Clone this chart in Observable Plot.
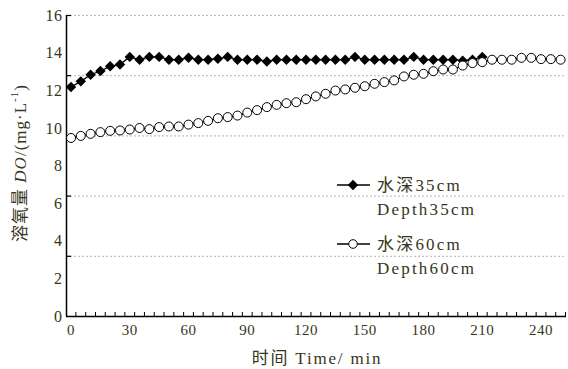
<!DOCTYPE html>
<html><head><meta charset="utf-8">
<script src="https://cdn.jsdelivr.net/npm/d3@7"></script>
<script src="https://cdn.jsdelivr.net/npm/@observablehq/plot@0.6"></script>
<style>
body{margin:0;background:#fff}
#chart{position:relative;width:568px;height:369px}
</style>
</head><body><div id="chart"></div>
<script>
// ---- data ----
const times35 = [0,5,10,15,20,25,30,35,40,45,50,55,60,65,70,75,80,85,90,95,100,105,110,115,120,125,130,135,140,145,150,155,160,165,170,175,180,185,190,195,200,205,210];
const depth35 = [12.2,12.5,12.85,13.05,13.3,13.4,13.8,13.65,13.8,13.8,13.65,13.65,13.75,13.65,13.65,13.7,13.8,13.65,13.65,13.65,13.55,13.65,13.65,13.65,13.65,13.65,13.65,13.65,13.65,13.8,13.65,13.65,13.65,13.65,13.65,13.8,13.65,13.65,13.65,13.65,13.6,13.65,13.8];
const times60 = [0,5,10,15,20,25,30,35,40,45,50,55,60,65,70,75,80,85,90,95,100,105,110,115,120,125,130,135,140,145,150,155,160,165,170,175,180,185,190,195,200,205,210,215,220,225,230,235,240,245,250];
const depth60 = [9.49,9.6,9.71,9.8,9.87,9.89,9.94,10.02,9.96,10.07,10.1,10.1,10.2,10.28,10.4,10.54,10.6,10.68,10.84,10.97,11.13,11.25,11.34,11.39,11.55,11.7,11.84,12.01,12.07,12.16,12.24,12.37,12.46,12.55,12.76,12.85,12.9,13.04,13.13,13.13,13.34,13.47,13.52,13.65,13.65,13.65,13.75,13.75,13.68,13.68,13.65];
const xTickLabels = [0,30,60,90,120,150,180,210,240];
const xMinorTicks = [2.5,7.5,12.5,17.5,22.5,27.5,32.5,37.5,42.5,47.5,52.5,57.5,62.5,67.5,72.5,77.5,82.5,87.5,92.5,97.5,102.5,107.5,112.5,117.5,122.5,127.5,132.5,137.5,142.5,147.5,152.5,157.5,162.5,167.5,172.5,177.5,182.5,187.5,192.5,197.5,202.5,207.5,212.5,217.5,222.5,227.5,232.5,237.5,242.5,247.5,252.5];
const yTickLabels = [0,2,4,6,8,10,12,14,16];
const yGridTicks = [3.2,6.4,9.6,12.8,16];
const xDomain = [-2.3, 253];
const yDomain = [0, 16];
const seriesNames = ["水深35cm","水深60cm"];
const seriesNamesEn = ["Depth35cm","Depth60cm"];
const xTitle = ["时间 Time/ min"];

const s35 = times35.map((t,i)=>({t, v: depth35[i]}));
const s60 = times60.map((t,i)=>({t, v: depth60[i]}));

const ink = "#36361a";
const W=568,H=369,mL=66,mR=2,mT=15,mB=53;
const pw = W-mL-mR, ph = H-mT-mB;
const font = "'Liberation Serif', 'Times New Roman', 'Noto Sans CJK SC', serif";

const plot = Plot.plot({
  width: W, height: H, marginLeft: mL, marginRight: mR, marginTop: mT, marginBottom: mB,
  style: {fontFamily: font, color: ink, background: "white", overflow: "visible", letterSpacing: "0.5px"},
  x: {domain: xDomain},
  y: {domain: yDomain},
  marks: [
    Plot.ruleY(yGridTicks, {stroke: "#b5b5b5", strokeDasharray: "2,2", strokeWidth: 1}),
    Plot.tickY(yGridTicks, {stroke: "black", strokeWidth: 1.2, insetRight: pw - 5}),
    Plot.tickX(xMinorTicks, {stroke: "black", strokeWidth: 1, insetTop: ph - 4}),
    Plot.axisX({ticks: xTickLabels, tickSize: 0, tickPadding: 8, fontSize: 15, label: null}),
    Plot.axisY({ticks: yTickLabels, tickSize: 0, tickPadding: 4, fontSize: 16, label: null}),
    Plot.ruleY([yDomain[0]], {stroke: "black", strokeWidth: 1.5}),
    Plot.ruleX([xDomain[0]], {stroke: "black", strokeWidth: 1.5}),
    Plot.line(s60, {x: "t", y: "v", stroke: "black", strokeWidth: 1.3}),
    Plot.line(s35, {x: "t", y: "v", stroke: "black", strokeWidth: 1.3}),
    Plot.dot(s35, {x: "t", y: "v", symbol: "diamond2", r: 4.7, fill: "black", stroke: "none"}),
    Plot.dot(s60, {x: "t", y: "v", symbol: "circle", r: 4.5, fill: "white", stroke: "black", strokeWidth: 1})
  ]
});
document.getElementById("chart").appendChild(plot);

const svg = d3.select(plot);

// x axis title
svg.append("text").attr("x", 317).attr("y", 358).attr("text-anchor","middle")
  .attr("dominant-baseline","central").attr("fill", ink).style("font-family", font)
  .style("font-size","17px").style("letter-spacing","1.8px").text(xTitle[0]);

// y axis title
const yt = svg.append("text").attr("transform","translate(20,163) rotate(-90)")
  .attr("text-anchor","middle").attr("dominant-baseline","central").attr("fill", ink)
  .style("font-family", font).style("font-size","17px").style("letter-spacing","1px");
yt.append("tspan").text("溶氧量 ");
yt.append("tspan").style("font-style","italic").text("DO");
yt.append("tspan").text("/(mg·L");
yt.append("tspan").attr("baseline-shift","super").style("font-size","11px").text("-1");
yt.append("tspan").text(")");

// legend
const lg = svg.append("g").attr("text-anchor","start");
const entries = [
  {y: 185, y2: 209, sym: d3.symbolDiamond2, size: Math.PI*4.7*4.7, fill: "black"},
  {y: 244, y2: 268, sym: d3.symbolCircle, size: Math.PI*4.3*4.3, fill: "white"}
];
entries.forEach((e,i)=>{
  lg.append("line").attr("x1",337).attr("x2",370).attr("y1",e.y).attr("y2",e.y)
    .style("stroke","black").style("stroke-width","1.5px");
  lg.append("path").attr("d", d3.symbol(e.sym, e.size)()).attr("transform",`translate(353,${e.y})`)
    .style("fill", e.fill).style("stroke", i ? "black" : "none").style("stroke-width","1px");
  lg.append("text").attr("x",377).attr("y",e.y).attr("text-anchor","start").attr("dominant-baseline","central").attr("fill",ink)
    .style("font-family",font).style("font-size","17px").style("letter-spacing","2.2px").text(seriesNames[i]);
  lg.append("text").attr("x",377).attr("y",e.y2).attr("text-anchor","start").attr("dominant-baseline","central").attr("fill",ink)
    .style("font-family",font).style("font-size","17px").style("letter-spacing","2.2px").text(seriesNamesEn[i]);
});
</script>
</body></html>
